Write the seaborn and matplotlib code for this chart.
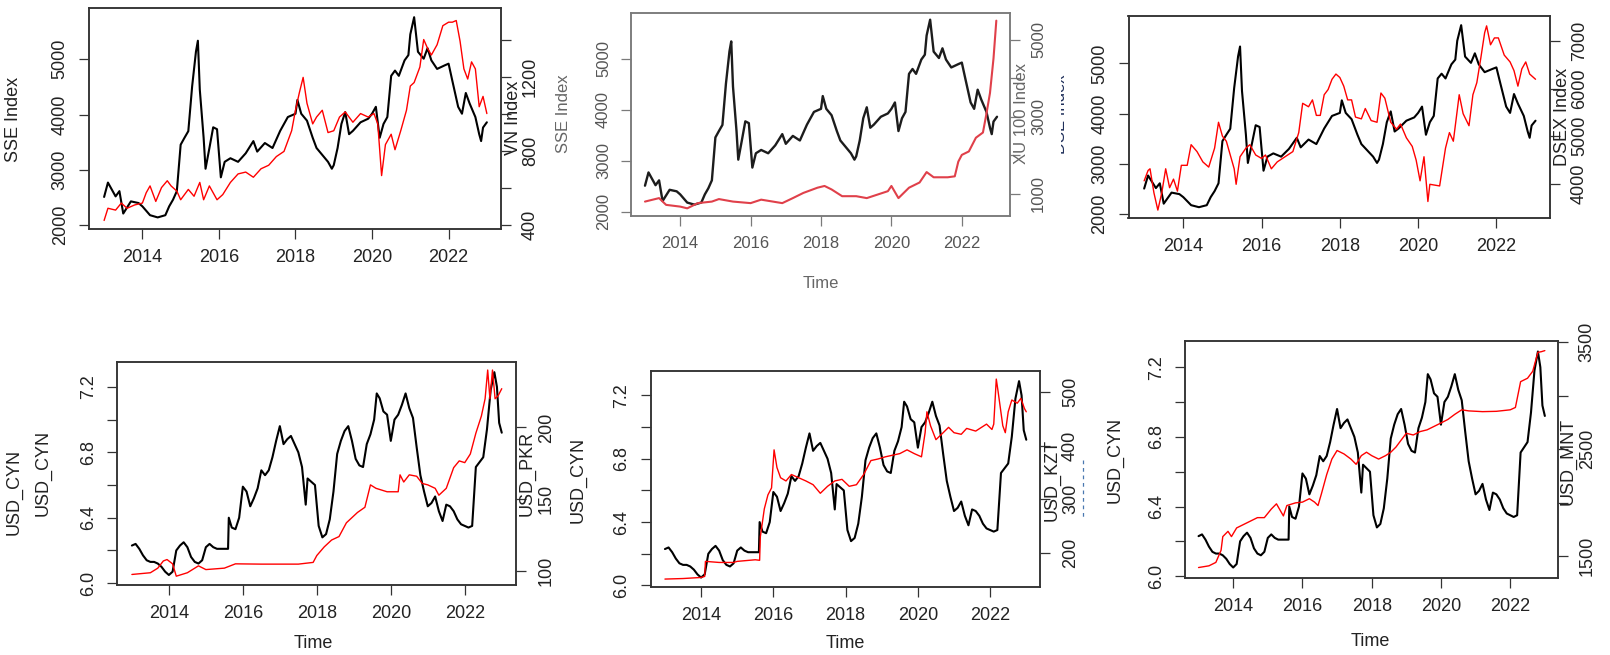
import matplotlib
matplotlib.use("Agg")
import matplotlib.pyplot as plt
import seaborn as sns
from matplotlib.patches import Rectangle
from matplotlib.lines import Line2D

sns.set_style("white")
plt.rcParams['font.family'] = ['Liberation Sans', 'DejaVu Sans']

# ---------------- data: (decimal year, value) ----------------
sse_index = [
    (2013.0, 2510), (2013.1, 2770), (2013.3, 2520), (2013.4, 2615), (2013.5, 2210),
    (2013.7, 2430), (2013.9, 2400), (2014.0, 2340), (2014.2, 2180), (2014.4, 2140),
    (2014.6, 2180), (2014.7, 2340), (2014.8, 2460), (2014.9, 2615), (2015.0, 3455),
    (2015.1, 3580), (2015.2, 3700), (2015.3, 4510), (2015.4, 5140), (2015.45, 5335),
    (2015.5, 4450), (2015.55, 4015), (2015.6, 3580), (2015.65, 3020), (2015.75, 3390),
    (2015.85, 3770), (2015.95, 3735), (2016.05, 2865), (2016.15, 3145), (2016.3, 3210),
    (2016.5, 3145), (2016.7, 3300), (2016.9, 3520), (2017.0, 3330), (2017.2, 3485),
    (2017.4, 3395), (2017.6, 3705), (2017.8, 3955), (2018.0, 4015), (2018.05, 4265),
    (2018.15, 4015), (2018.3, 3890), (2018.45, 3580), (2018.55, 3395), (2018.7, 3270),
    (2018.85, 3145), (2018.95, 3020), (2019.0, 3085), (2019.1, 3395), (2019.2, 3830),
    (2019.3, 4045), (2019.4, 3645), (2019.5, 3705), (2019.7, 3860), (2019.9, 3925),
    (2020.0, 4015), (2020.1, 4140), (2020.2, 3580), (2020.3, 3830), (2020.4, 3955),
    (2020.5, 4700), (2020.6, 4795), (2020.7, 4700), (2020.85, 4980), (2020.95, 5075),
    (2021.0, 5450), (2021.1, 5760), (2021.2, 5135), (2021.35, 5010), (2021.45, 5200),
    (2021.55, 4980), (2021.7, 4825), (2021.9, 4890), (2022.0, 4920), (2022.1, 4605),
    (2022.25, 4140), (2022.35, 4015), (2022.45, 4390), (2022.55, 4200), (2022.7, 3955),
    (2022.8, 3645), (2022.85, 3520), (2022.9, 3765), (2023.0, 3860),
]

vn_index = [
    (2013.0, 422), (2013.1, 488), (2013.3, 478), (2013.45, 516), (2013.6, 488),
    (2013.8, 506), (2014.0, 516), (2014.1, 572), (2014.2, 609), (2014.35, 525),
    (2014.5, 600), (2014.65, 637), (2014.75, 609), (2014.9, 581), (2015.0, 534),
    (2015.2, 590), (2015.35, 553), (2015.5, 628), (2015.6, 534), (2015.75, 609),
    (2015.95, 534), (2016.1, 562), (2016.3, 628), (2016.5, 674), (2016.7, 684),
    (2016.9, 656), (2017.1, 702), (2017.3, 721), (2017.5, 768), (2017.7, 796),
    (2017.9, 908), (2018.0, 1019), (2018.1, 1113), (2018.2, 1197), (2018.3, 1057),
    (2018.45, 945), (2018.55, 982), (2018.7, 1019), (2018.85, 898), (2019.0, 908),
    (2019.15, 982), (2019.3, 1010), (2019.5, 954), (2019.7, 1001), (2019.9, 982),
    (2020.05, 1001), (2020.15, 945), (2020.25, 665), (2020.35, 833), (2020.5, 889),
    (2020.6, 805), (2020.75, 908), (2020.9, 1019), (2021.0, 1150), (2021.1, 1169),
    (2021.25, 1253), (2021.35, 1402), (2021.45, 1355), (2021.55, 1318), (2021.7, 1374),
    (2021.85, 1477), (2022.0, 1496), (2022.1, 1496), (2022.2, 1505), (2022.3, 1393),
    (2022.4, 1243), (2022.5, 1188), (2022.6, 1281), (2022.7, 1243), (2022.8, 1038),
    (2022.9, 1094), (2023.0, 1001),
]

xu100_index = [
    (2013.0, 800), (2013.4, 890), (2013.6, 715), (2014.0, 670), (2014.2, 625),
    (2014.5, 760), (2014.9, 800), (2015.1, 865), (2015.5, 800), (2016.0, 760),
    (2016.3, 850), (2016.9, 760), (2017.2, 890), (2017.5, 1025), (2017.9, 1160),
    (2018.1, 1205), (2018.3, 1115), (2018.6, 940), (2019.0, 940), (2019.3, 890),
    (2019.6, 980), (2019.9, 1070), (2020.0, 1205), (2020.2, 890), (2020.5, 1160),
    (2020.8, 1295), (2021.0, 1565), (2021.2, 1430), (2021.6, 1430), (2021.8, 1455),
    (2021.9, 1835), (2022.0, 2010), (2022.2, 2100), (2022.4, 2455), (2022.6, 2590),
    (2022.7, 3080), (2022.8, 3615), (2022.9, 4510), (2022.98, 5490),
]

dsex_index = [
    (2013.0, 4058), (2013.1, 4276), (2013.15, 4312), (2013.25, 3804), (2013.35, 3441),
    (2013.45, 3804), (2013.55, 4312), (2013.65, 3913), (2013.75, 4094), (2013.85, 3840),
    (2013.95, 4385), (2014.1, 4385), (2014.2, 4820), (2014.35, 4675), (2014.5, 4457),
    (2014.65, 4348), (2014.8, 4748), (2014.9, 5293), (2015.0, 5000), (2015.1, 4893),
    (2015.2, 4603), (2015.3, 4312), (2015.35, 3985), (2015.45, 4566), (2015.6, 4748),
    (2015.7, 4820), (2015.85, 4603), (2016.0, 4530), (2016.1, 4603), (2016.25, 4312),
    (2016.4, 4457), (2016.6, 4566), (2016.8, 4675), (2016.95, 5075), (2017.05, 5693),
    (2017.2, 5620), (2017.3, 5765), (2017.4, 5438), (2017.5, 5438), (2017.6, 5874),
    (2017.7, 5983), (2017.8, 6200), (2017.9, 6310), (2018.0, 6237), (2018.1, 6055),
    (2018.2, 5765), (2018.3, 5765), (2018.4, 5402), (2018.55, 5365), (2018.65, 5583),
    (2018.8, 5329), (2018.95, 5293), (2019.05, 5910), (2019.15, 5801), (2019.3, 5293),
    (2019.45, 5148), (2019.55, 5256), (2019.7, 4965), (2019.85, 4784), (2019.95, 4494),
    (2020.05, 4058), (2020.15, 4566), (2020.25, 3622), (2020.3, 3985), (2020.55, 3950),
    (2020.7, 4748), (2020.8, 5075), (2020.9, 4893), (2021.05, 5874), (2021.15, 5474),
    (2021.3, 5220), (2021.4, 5874), (2021.5, 6128), (2021.6, 6637), (2021.7, 7181),
    (2021.75, 7326), (2021.85, 6927), (2021.95, 7072), (2022.05, 7072), (2022.2, 6710),
    (2022.35, 6565), (2022.45, 6382), (2022.55, 6055), (2022.65, 6419), (2022.75, 6565),
    (2022.85, 6310), (2023.0, 6200),
]

usd_cny = [
    (2013.0, 6.23), (2013.1, 6.24), (2013.2, 6.21), (2013.3, 6.17), (2013.4, 6.14),
    (2013.5, 6.13), (2013.6, 6.13), (2013.7, 6.12), (2013.8, 6.10), (2013.9, 6.07),
    (2014.0, 6.05), (2014.1, 6.07), (2014.2, 6.20), (2014.3, 6.23), (2014.4, 6.25),
    (2014.5, 6.22), (2014.6, 6.16), (2014.7, 6.13), (2014.8, 6.12), (2014.9, 6.14),
    (2015.0, 6.22), (2015.1, 6.24), (2015.2, 6.22), (2015.3, 6.21), (2015.5, 6.21),
    (2015.6, 6.21), (2015.62, 6.40), (2015.7, 6.34), (2015.8, 6.33), (2015.9, 6.40),
    (2016.0, 6.59), (2016.1, 6.56), (2016.2, 6.47), (2016.3, 6.52), (2016.4, 6.58),
    (2016.5, 6.69), (2016.6, 6.66), (2016.7, 6.69), (2016.8, 6.77), (2016.9, 6.87),
    (2017.0, 6.96), (2017.1, 6.85), (2017.2, 6.88), (2017.3, 6.90), (2017.4, 6.85),
    (2017.5, 6.80), (2017.6, 6.71), (2017.7, 6.48), (2017.75, 6.64), (2017.85, 6.62),
    (2017.95, 6.60), (2018.05, 6.35), (2018.15, 6.28), (2018.25, 6.30), (2018.35, 6.39),
    (2018.45, 6.56), (2018.55, 6.79), (2018.65, 6.87), (2018.75, 6.93), (2018.85, 6.96),
    (2018.95, 6.87), (2019.05, 6.76), (2019.15, 6.72), (2019.25, 6.71), (2019.35, 6.85),
    (2019.45, 6.91), (2019.55, 7.00), (2019.62, 7.16), (2019.7, 7.13), (2019.8, 7.05),
    (2019.9, 7.03), (2020.0, 6.87), (2020.1, 7.00), (2020.2, 7.03), (2020.3, 7.09),
    (2020.4, 7.16), (2020.5, 7.07), (2020.6, 7.01), (2020.7, 6.83), (2020.8, 6.66),
    (2020.9, 6.56), (2021.0, 6.47), (2021.1, 6.49), (2021.2, 6.53), (2021.3, 6.44),
    (2021.4, 6.38), (2021.5, 6.48), (2021.6, 6.47), (2021.7, 6.44), (2021.8, 6.39),
    (2021.9, 6.36), (2022.0, 6.35), (2022.1, 6.34), (2022.2, 6.35), (2022.3, 6.71),
    (2022.4, 6.74), (2022.5, 6.77), (2022.6, 6.94), (2022.7, 7.18), (2022.8, 7.29),
    (2022.87, 7.20), (2022.93, 6.98), (2023.0, 6.92),
]

usd_pkr = [
    (2013.0, 97.6), (2013.5, 98.8), (2013.7, 102), (2013.85, 107), (2013.95, 108),
    (2014.1, 105), (2014.2, 96.4), (2014.5, 98.8), (2014.8, 103.6), (2015.0, 101),
    (2015.5, 102), (2015.8, 105), (2016.5, 104.8), (2017.5, 104.8), (2017.9, 106),
    (2018.0, 110.8), (2018.2, 116.8), (2018.4, 121.6), (2018.6, 124), (2018.8, 133.6),
    (2019.1, 140.8), (2019.3, 144.4), (2019.45, 160), (2019.6, 157.6), (2019.9, 155.2),
    (2020.2, 155.2), (2020.25, 167), (2020.35, 162), (2020.5, 167), (2020.7, 166),
    (2020.85, 161), (2021.0, 160), (2021.2, 157.6), (2021.3, 152.8), (2021.5, 157.6),
    (2021.7, 172), (2021.85, 176.7), (2022.0, 175.5), (2022.15, 181.5), (2022.3, 196),
    (2022.45, 208), (2022.55, 220), (2022.62, 240), (2022.68, 220), (2022.75, 240),
    (2022.82, 220), (2022.9, 222), (2023.0, 227),
]

usd_kzt = [
    (2013.0, 151), (2013.5, 152), (2014.0, 154), (2014.1, 156), (2014.12, 184),
    (2014.5, 182), (2014.9, 182), (2015.0, 184), (2015.5, 187), (2015.62, 186),
    (2015.64, 230), (2015.75, 282), (2015.85, 308), (2015.95, 321), (2016.02, 392),
    (2016.1, 359), (2016.2, 340), (2016.35, 334), (2016.5, 346), (2016.7, 340),
    (2016.9, 334), (2017.1, 327), (2017.3, 311), (2017.5, 324), (2017.7, 334),
    (2017.9, 337), (2018.1, 324), (2018.3, 327), (2018.5, 346), (2018.7, 372),
    (2018.9, 375), (2019.1, 379), (2019.3, 382), (2019.5, 385), (2019.7, 392),
    (2019.9, 385), (2020.1, 379), (2020.2, 424), (2020.25, 463), (2020.35, 437),
    (2020.5, 411), (2020.7, 424), (2020.85, 434), (2021.0, 424), (2021.2, 421),
    (2021.35, 432), (2021.6, 427), (2021.9, 440), (2022.05, 430), (2022.1, 440),
    (2022.17, 524), (2022.22, 501), (2022.35, 437), (2022.42, 424), (2022.5, 463),
    (2022.6, 485), (2022.75, 479), (2022.85, 488), (2022.95, 469), (2023.0, 463),
]

usd_mnt = [
    (2013.0, 1394), (2013.3, 1410), (2013.5, 1442), (2013.65, 1555), (2013.7, 1683),
    (2013.85, 1732), (2013.95, 1683), (2014.1, 1764), (2014.3, 1796), (2014.5, 1828),
    (2014.7, 1860), (2014.9, 1860), (2015.1, 1940), (2015.25, 1989), (2015.45, 1876),
    (2015.55, 1973), (2015.8, 1998), (2016.0, 2005), (2016.2, 2037), (2016.35, 2005),
    (2016.45, 1973), (2016.55, 2085), (2016.7, 2262), (2016.85, 2407), (2017.0, 2487),
    (2017.2, 2455), (2017.4, 2407), (2017.55, 2358), (2017.7, 2439), (2017.85, 2471),
    (2018.0, 2439), (2018.2, 2407), (2018.4, 2439), (2018.55, 2471), (2018.7, 2519),
    (2018.85, 2584), (2019.0, 2648), (2019.2, 2632), (2019.4, 2664), (2019.6, 2680),
    (2019.8, 2712), (2020.0, 2744), (2020.2, 2777), (2020.4, 2825), (2020.6, 2867),
    (2020.8, 2857), (2021.2, 2850), (2021.6, 2853), (2022.0, 2867), (2022.15, 2889),
    (2022.3, 3130), (2022.5, 3162), (2022.65, 3227), (2022.8, 3404), (2022.9, 3410),
    (2023.0, 3420),
]

year_ticks = [2014, 2016, 2018, 2020, 2022]
cny_ticks = [6.0, 6.2, 6.4, 6.6, 6.8, 7.0, 7.2]
cny_labels = ['6.0', '', '6.4', '', '6.8', '', '7.2']
sse_ticks = [2000, 3000, 4000, 5000]

# ---------------- figure layout (pixels) ----------------
W, H = 1610, 655
fig = plt.figure(figsize=(W / 100, H / 100), dpi=100)
fig.patch.set_facecolor('white')
XLIM = (2012.6, 2023.38)
FS = 13
TXT = '#222222'


def rect(l, t, r, b):
    return [l / W, 1 - b / H, (r - l) / W, (b - t) / H]


def ftext(x, y, s, rot=90, size=FS, color=TXT, **kw):
    fig.text(x / W, 1 - y / H, s, rotation=rot, ha='center', va='center',
             fontsize=size, color=color, **kw)


def split(series):
    return [p[0] for p in series], [p[1] for p in series]


def panel(box, left, lylim, lticks, llabels, right, rylim, rticks, rlabels,
          fs=FS, frame='#333333', txt=TXT, black='black', red='red',
          lw_black=1.5, lw_red=1.0, rpad=8.0):
    ax = fig.add_axes(rect(*box))
    lx, ly = split(left)
    sns.lineplot(x=lx, y=ly, ax=ax, color=black, linewidth=lw_black,
                 estimator=None, sort=False)
    ax.set_xlim(*XLIM)
    ax.set_ylim(*lylim)
    ax.set_xticks(year_ticks)
    ax.set_xticklabels([str(y) for y in year_ticks])
    ax.set_yticks(lticks)
    ax.set_yticklabels(llabels, rotation=90, va='center')
    ax.set_xlabel('')
    ax.set_ylabel('')

    ax2 = ax.twinx()
    rx, ry = split(right)
    sns.lineplot(x=rx, y=ry, ax=ax2, color=red, linewidth=lw_red,
                 estimator=None, sort=False)
    ax2.set_xlim(*XLIM)
    ax2.set_ylim(*rylim)
    ax2.set_yticks(rticks)
    ax2.set_yticklabels(rlabels, rotation=90, va='center')
    ax2.set_ylabel('')

    for a in (ax, ax2):
        for sp in a.spines.values():
            sp.set_color(frame)
            sp.set_linewidth(1.1)
            sp.set_visible(True)
    ax.tick_params(axis='both', direction='out', length=6.9, width=0.9,
                   pad=7.5, labelsize=fs, colors=frame, labelcolor=txt)
    ax.tick_params(axis='both', which='both', left=True, bottom=True)
    ax2.tick_params(axis='y', direction='out', length=6.9, width=0.9,
                    pad=rpad, labelsize=fs, colors=frame, labelcolor=txt,
                    right=True)
    return ax, ax2


# ---- top row: SSE Index against regional stock indices ----
panel((88.8, 7.6, 501.4, 229.3), sse_index, (1925, 5934), sse_ticks,
      [str(v) for v in sse_ticks],
      vn_index, (374, 1575), [400, 600, 800, 1000, 1200, 1400],
      ['400', '', '800', '', '1200', ''])
ftext(14, 119, 'SSE Index')
ftext(513, 118, 'VN Index')

panel((630.9, 12.7, 1010.4, 215.9), sse_index, (1919, 5897), sse_ticks,
      [str(v) for v in sse_ticks],
      xu100_index, (429, 5696), [1000, 2000, 3000, 4000, 5000],
      ['1000', '', '3000', '', '5000'],
      fs=12, frame='#7a7a7a', txt='#555555', black='#1c1c1c',
      red='#e0404a', lw_black=1.7, lw_red=1.5)
ftext(564, 114, 'SSE Index', size=12, color='#666666')
ftext(1022, 114, 'XU 100 Index', size=12, color='#666666')
ftext(1060, 114, 'DSE Index', size=12, color='#1f2f5a')
ftext(821, 284, 'Time', rot=0, size=12, color='#666666')

panel((1128.5, 16.2, 1550.4, 218.0), sse_index, (1925, 5938), sse_ticks,
      [str(v) for v in sse_ticks],
      dsex_index, (3274, 7530), [4000, 5000, 6000, 7000],
      ['4000', '5000', '6000', '7000'])
ftext(1562, 117, 'DSEX Index')

# ---- bottom row: USD/CNY against regional currencies ----
panel((117.1, 361.7, 515.8, 584.8), usd_cny, (5.99, 7.354), cny_ticks,
      cny_labels, usd_pkr, (90.4, 245.8), [100, 150, 200],
      ['100', '150', '200'], rpad=9)
ftext(14, 492, 'USD_CYN')
ftext(43, 473, 'USD_CYN')
ftext(527, 473, 'USD_PKR')
ftext(313, 643, 'Time', rot=0)

panel((650.5, 371.3, 1040.0, 586.9), usd_cny, (5.991, 7.352), cny_ticks,
      cny_labels, usd_kzt, (136.4, 538.5), [200, 300, 400, 500],
      ['200', '300', '400', '500'], rpad=9)
ftext(578, 480, 'USD_CYN')
ftext(1052, 480, 'USD_KZT')
ftext(845, 643, 'Time', rot=0)
fig.add_artist(Line2D([1083 / W, 1083 / W], [1 - 460 / H, 1 - 520 / H],
                      transform=fig.transFigure, color='#4a78b0',
                      linewidth=0.9, linestyle=(0, (3, 3)), zorder=4))

panel((1184.7, 341.4, 1558.0, 577.6), usd_cny, (5.992, 7.348), cny_ticks,
      cny_labels, usd_mnt, (1300, 3506), [1500, 2000, 2500, 3000, 3500],
      ['1500', '', '2500', '', '3500'])
ftext(1115, 460, 'USD_CYN')
ftext(1568, 461, 'USD_MNT')
ftext(1370, 642, 'Time', rot=0)

# crop edge hiding the left half of the cut-off axis title
fig.add_artist(Rectangle((1051 / W, 1 - 300 / H), 9.5 / W, 300 / H,
                         transform=fig.transFigure, facecolor='white',
                         edgecolor='none', zorder=10))

fig.savefig('out.png', dpi=100, facecolor='white')
